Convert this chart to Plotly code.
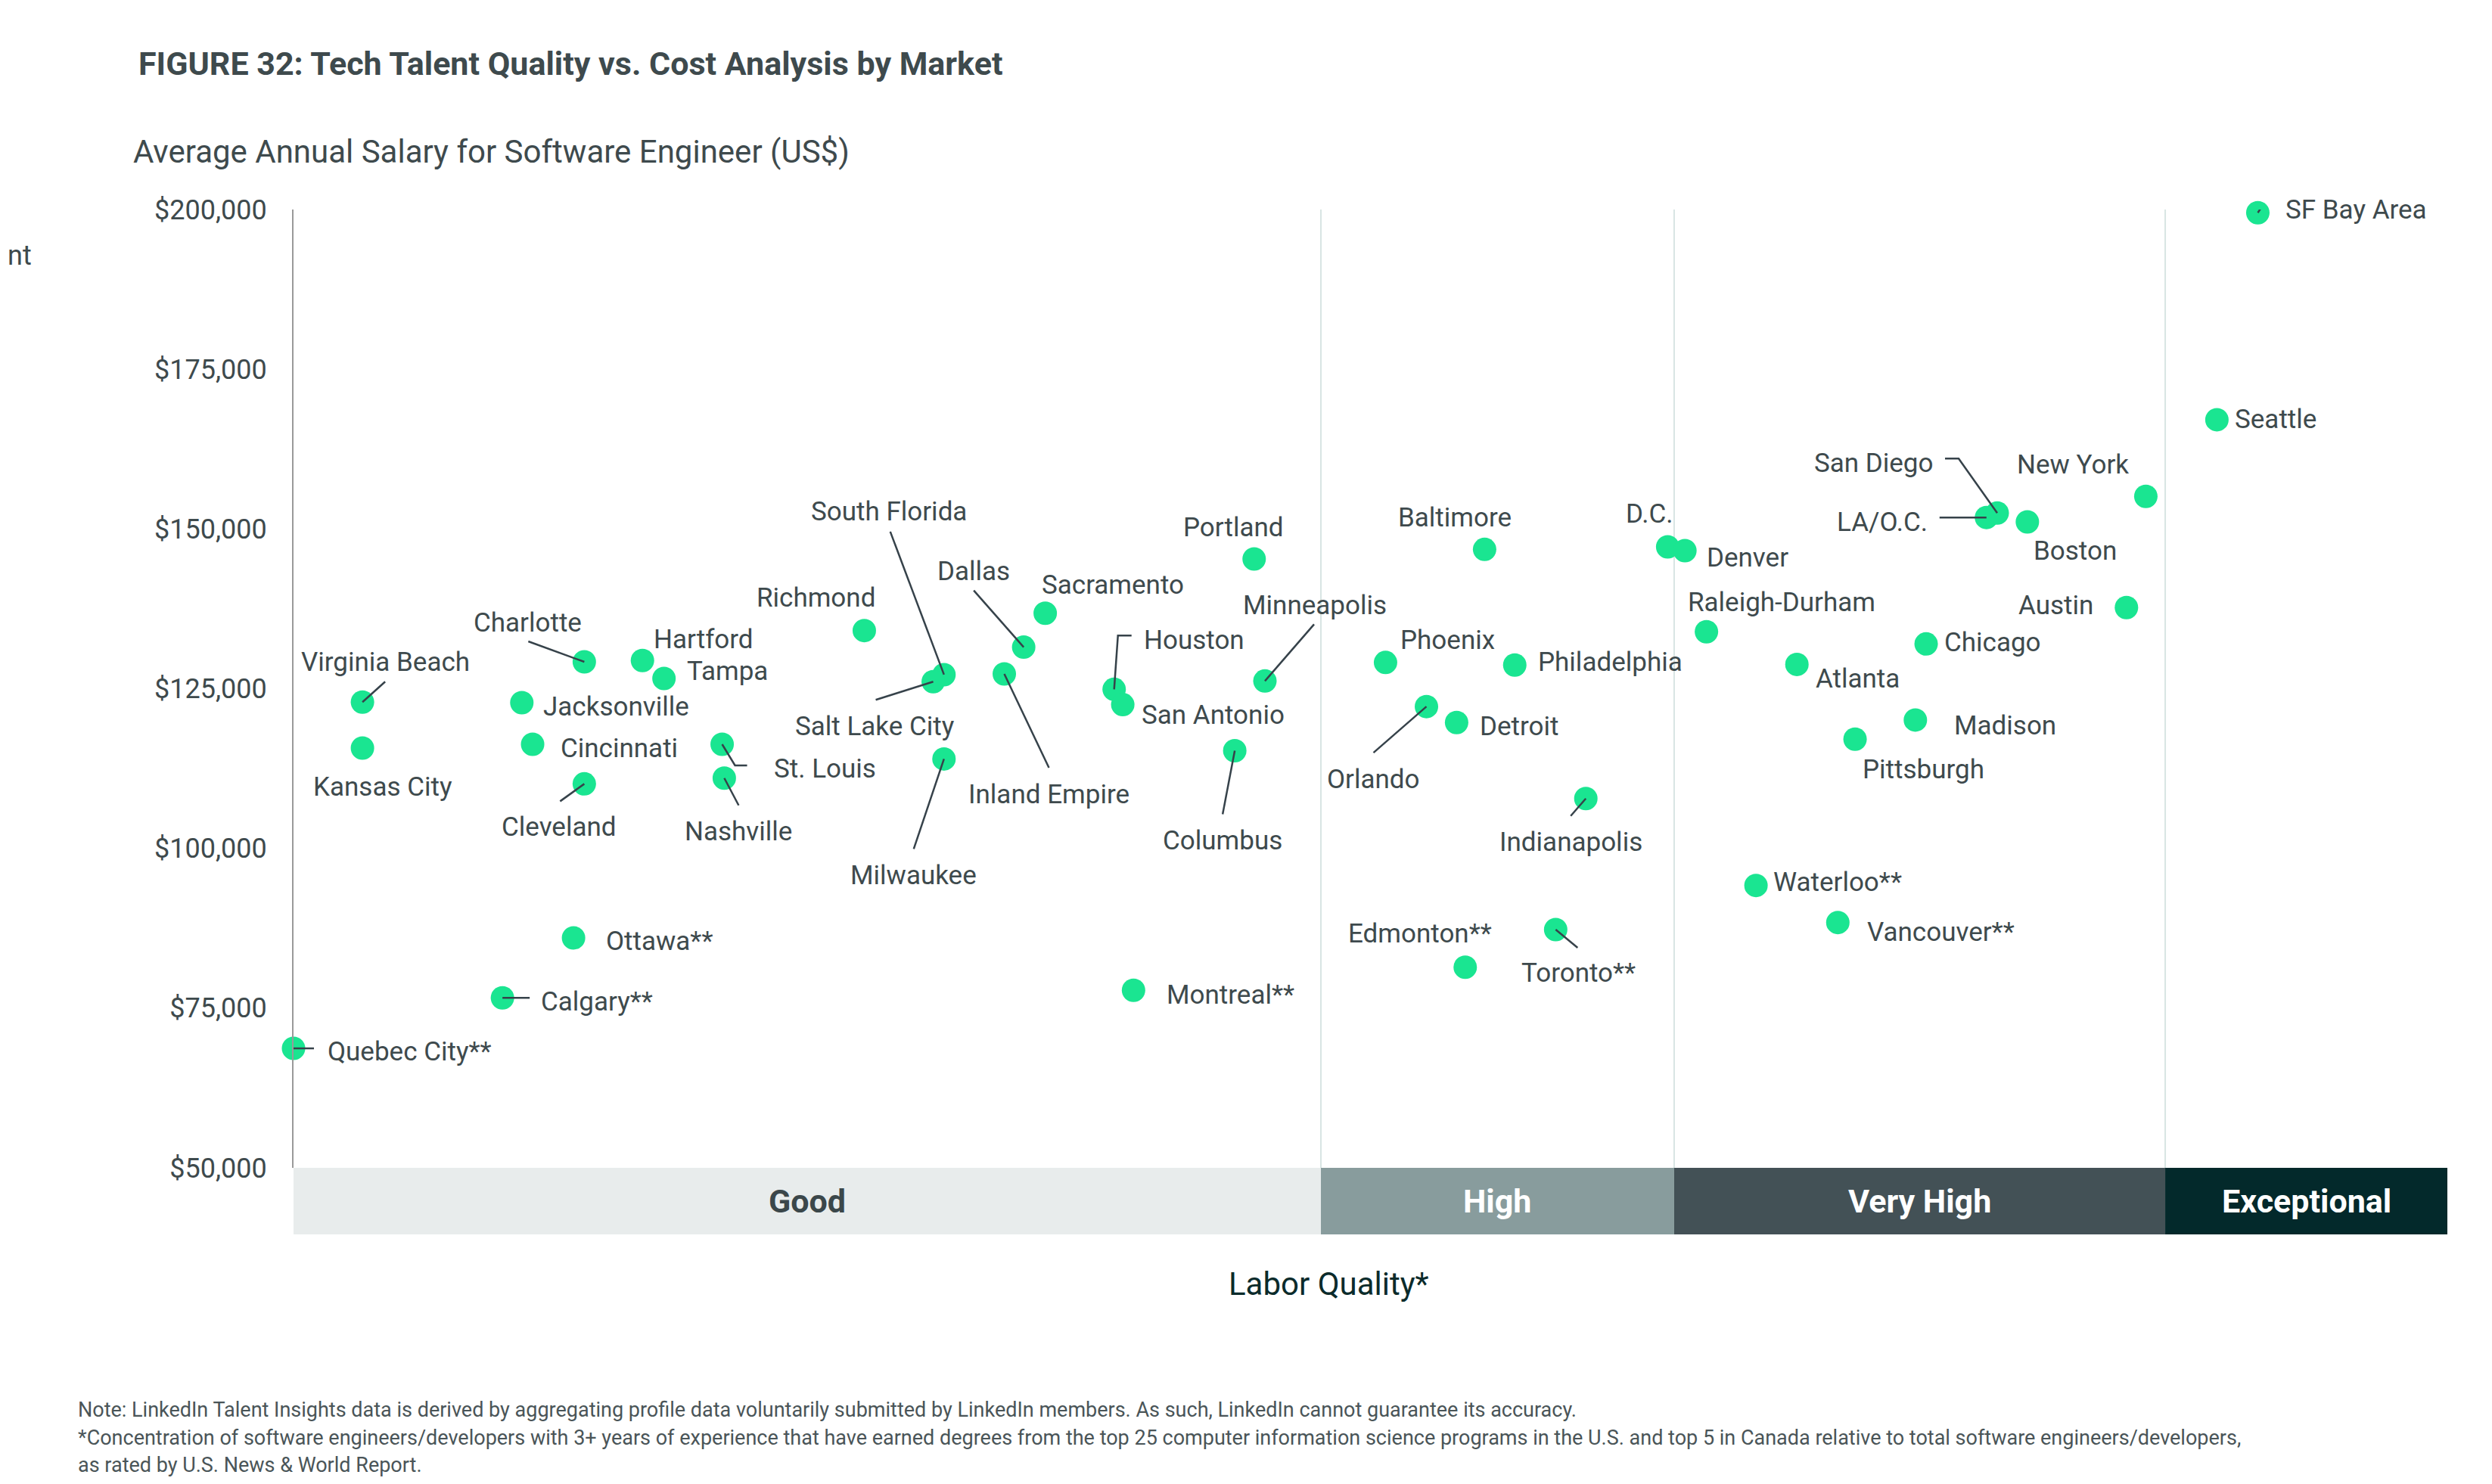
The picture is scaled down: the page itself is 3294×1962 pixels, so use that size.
import plotly.graph_objects as go

# Markets, labor quality index (position along the quality scale) and salary
CITIES = [
    "Quebec City**", "Calgary**", "Ottawa**", "Virginia Beach", "Kansas City",
    "Charlotte", "Jacksonville", "Cincinnati", "Cleveland", "Hartford",
    "Tampa", "St. Louis", "Nashville", "Richmond", "South Florida",
    "Salt Lake City", "Dallas", "Sacramento", "Inland Empire", "Milwaukee",
    "Houston", "San Antonio", "Montreal**", "Portland", "Minneapolis",
    "Columbus", "Phoenix", "Baltimore", "D.C.", "Denver",
    "Philadelphia", "Orlando", "Detroit", "Indianapolis", "Raleigh-Durham",
    "Edmonton**", "Toronto**", "Waterloo**", "Vancouver**", "Atlanta",
    "Pittsburgh", "Madison", "Chicago", "LA/O.C.", "San Diego",
    "Boston", "Austin", "New York", "Seattle", "SF Bay Area",
]
QUALITY = [
    0.0, 9.7, 13.0, 3.2, 3.2,
    13.5, 10.6, 11.1, 13.5, 16.2,
    17.2, 19.9, 20.0, 26.5, 30.2,
    29.7, 33.9, 34.9, 33.0, 30.2,
    38.1, 38.5, 39.0, 44.6, 45.1,
    43.7, 50.7, 55.3, 63.8, 64.6,
    56.7, 52.6, 54.0, 60.0, 65.6,
    54.4, 58.6, 67.9, 71.7, 69.8,
    72.5, 75.3, 75.8, 78.6, 79.1,
    80.5, 85.1, 86.0, 89.3, 91.2,
]
SALARY = [
    68700, 76600, 86000, 122900, 115700,
    129200, 122800, 116300, 110100, 129400,
    126600, 116300, 111000, 134100, 127200,
    126100, 131500, 136800, 127300, 114000,
    124900, 122500, 77800, 145300, 126200,
    115300, 129100, 146800, 147200, 146600,
    128700, 122200, 119700, 107800, 133900,
    81400, 87300, 94200, 88400, 128800,
    117100, 120100, 132000, 151800, 152500,
    151100, 137700, 155100, 167100, 199500,
]

TIERS = ["Good", "High", "Very High", "Exceptional"]
TIER_EDGES = [0, 47.7, 64.1, 86.9, 100]
SALARY_TICKS = [50000, 75000, 100000, 125000, 150000, 175000, 200000]
SALARY_TICK_TEXT = ["$50,000", "$75,000", "$100,000", "$125,000", "$150,000", "$175,000", "$200,000"]

# label placement: (dx, dy in screen px from the point, anchor)
LABEL_POS = {
    "Quebec City**": (43, 4, "left"), "Calgary**": (49, 5, "left"),
    "Ottawa**": (41, 5, "left"), "Virginia Beach": (30, -53, "center"),
    "Kansas City": (27, 51, "center"), "Charlotte": (-75, -52, "center"),
    "Jacksonville": (26, 5, "left"), "Cincinnati": (35, 6, "left"),
    "Cleveland": (-33, 57, "center"), "Hartford": (13, -28, "left"),
    "Tampa": (28, -9, "left"), "St. Louis": (66, 33, "left"),
    "Nashville": (19, 71, "center"), "Richmond": (-64, -43, "center"),
    "South Florida": (-73, -215, "center"), "Salt Lake City": (-77, 59, "center"),
    "Dallas": (-66, -100, "center"), "Sacramento": (89, -37, "center"),
    "Inland Empire": (59, 159, "center"), "Milwaukee": (-40, 154, "center"),
    "Houston": (37, -65, "left"), "San Antonio": (23, 14, "left"),
    "Montreal**": (42, 6, "left"), "Portland": (-27, -42, "center"),
    "Minneapolis": (66, -100, "center"), "Columbus": (-16, 119, "center"),
    "Phoenix": (18, -29, "left"), "Baltimore": (-39, -42, "center"),
    "D.C.": (-24, -43, "center"), "Denver": (27, 9, "left"),
    "Philadelphia": (29, -4, "left"), "Orlando": (-70, 96, "center"),
    "Detroit": (29, 5, "left"), "Indianapolis": (-20, 58, "center"),
    "Raleigh-Durham": (99, -39, "center"), "Edmonton**": (-60, -44, "center"),
    "Toronto**": (30, 58, "center"), "Waterloo**": (21, -4, "left"),
    "Vancouver**": (37, 13, "left"), "Atlanta": (23, 19, "left"),
    "Pittsburgh": (90, 40, "center"), "Madison": (49, 8, "left"),
    "Chicago": (22, -2, "left"), "LA/O.C.": (-76, 6, "right"),
    "San Diego": (-83, -66, "right"), "Boston": (63, 38, "center"),
    "Austin": (-42, -3, "right"), "New York": (-96, -42, "center"),
    "Seattle": (22, 0, "left"), "SF Bay Area": (35, -4, "left"),
}

# leader lines, screen px relative to the point
LEADERS = {
    "Quebec City**": [(0, 0), (27, 0)],
    "Calgary**": [(0, 0), (36, 0)],
    "Virginia Beach": [(0, 0), (30, -27)],
    "Charlotte": [(-74, -27), (0, 0)],
    "Cleveland": [(0, 0), (-32, 23)],
    "St. Louis": [(0, 0), (17, 28), (33, 28)],
    "Nashville": [(0, 0), (19, 36)],
    "South Florida": [(-71, -189), (0, 0)],
    "Salt Lake City": [(0, 0), (-76, 24)],
    "Dallas": [(-66, -75), (0, 0)],
    "Inland Empire": [(0, 0), (59, 124)],
    "Milwaukee": [(0, 0), (-40, 119)],
    "Houston": [(0, 0), (5, -71), (23, -71)],
    "Minneapolis": [(65, -75), (0, 0)],
    "Columbus": [(0, 0), (-16, 84)],
    "Orlando": [(0, 0), (-70, 61)],
    "Indianapolis": [(0, 0), (-20, 23)],
    "Toronto**": [(0, 0), (29, 24)],
    "LA/O.C.": [(-62, 0), (0, 0)],
    "San Diego": [(-69, -72), (-51, -72), (0, 0)],
    "SF Bay Area": [(0, 0), (6, -9), (23, -9)],
}

FONT = "Roboto, Arial, sans-serif"
GREEN = "#1AE591"
TEXT = "#3E4A4D"
LINE = "#36424A"
TIER_FILL = ["#E8ECEC", "#889C9D", "#435156", "#03292B"]
TIER_TEXT = ["#3B474A", "#FFFFFF", "#FFFFFF", "#FFFFFF"]

# page has an 8px body margin, so the figure is a bit smaller than the window
OFF = 8
W, H = 3278, 1946
L, R, T, B = 380, 51, 269, 410
PW, PH = W - L - R, H - T - B


def px(x, y):
    """page pixel -> paper coords"""
    return (x - OFF - L) / PW, (H - B - (y - OFF)) / PH


fig = go.Figure(go.Scatter(
    x=QUALITY, y=SALARY, mode="markers", text=CITIES, hoverinfo="text",
    marker=dict(size=31, color=GREEN, line=dict(width=0)),
    cliponaxis=False,
))

annotations = []
shapes = []

for name, q, s in zip(CITIES, QUALITY, SALARY):
    dx, dy, anchor = LABEL_POS[name]
    annotations.append(dict(
        x=q, y=s, xref="x", yref="y", text=name, showarrow=False,
        xanchor=anchor, yanchor="middle", xshift=dx, yshift=-dy,
        font=dict(family=FONT, size=35, color=TEXT),
    ))
    if name in LEADERS:
        pts = LEADERS[name]
        path = "M " + " L ".join(f"{a},{-b}" for a, b in pts)
        shapes.append(dict(
            type="path", xref="x", yref="y", xsizemode="pixel", ysizemode="pixel",
            xanchor=q, yanchor=s, path=path, layer="above",
            line=dict(color=LINE, width=2.5),
        ))

# tier boundaries and band
band_h = 88 / PH
for i, tier in enumerate(TIERS):
    x0, x1 = TIER_EDGES[i], TIER_EDGES[i + 1]
    shapes.append(dict(type="rect", xref="x", yref="paper", x0=x0, x1=x1,
                       y0=0, y1=-band_h, fillcolor=TIER_FILL[i],
                       line=dict(width=0), layer="above"))
    annotations.append(dict(
        x=(x0 + x1) / 2, y=-band_h / 2, xref="x", yref="paper", text=f"<b>{tier}</b>",
        showarrow=False, xanchor="center", yanchor="middle",
        font=dict(family=FONT, size=43, color=TIER_TEXT[i]),
    ))
    if i > 0:
        shapes.append(dict(type="line", xref="x", yref="paper", x0=x0, x1=x0,
                           y0=0, y1=1, layer="below",
                           line=dict(color="#D8E5E3", width=2)))


# titles and notes
def text_at(x, y, txt, size, color=TEXT, anchor="left"):
    xp, yp = px(x, y)
    annotations.append(dict(
        x=xp, y=yp, xref="paper", yref="paper", text=txt, showarrow=False,
        xanchor=anchor, yanchor="middle", font=dict(family=FONT, size=size, color=color),
    ))


text_at(181, 84, "<b>FIGURE 32: Tech Talent Quality vs. Cost Analysis by Market</b>", 43)
text_at(174, 200, "Average Annual Salary for Software Engineer (US$)", 42)
text_at(8, 338, "nt", 36)
text_at(1756, 1697, "Labor Quality*", 42, color="#0B2B2B", anchor="center")
text_at(101, 1864, "Note: LinkedIn Talent Insights data is derived by aggregating profile data "
        "voluntarily submitted by LinkedIn members. As such, LinkedIn cannot guarantee its accuracy.",
        27, color="#4A5558")
text_at(101, 1901, "*Concentration of software engineers/developers with 3+ years of experience "
        "that have earned degrees from the top 25 computer information science programs in the "
        "U.S. and top 5 in Canada relative to total software engineers/developers,",
        27, color="#4A5558")
text_at(101, 1937, "as rated by U.S. News &amp; World Report.", 27, color="#4A5558")

fig.update_layout(
    width=W, height=H,
    margin=dict(l=L, r=R, t=T, b=B),
    paper_bgcolor="white", plot_bgcolor="white",
    showlegend=False,
    annotations=annotations,
    shapes=shapes,
    font=dict(family=FONT, color=TEXT),
    xaxis=dict(range=[0, 100], showgrid=False, zeroline=False, showline=False,
               showticklabels=False, ticks=""),
    yaxis=dict(range=[50000, 200000], tickvals=SALARY_TICKS, ticktext=SALARY_TICK_TEXT,
               showgrid=False, zeroline=False, showline=True,
               linecolor="#9A9A9A", linewidth=2, ticks="", ticklabelstandoff=26,
               tickfont=dict(family=FONT, size=36, color=TEXT)),
)

fig.write_html("out.html")
